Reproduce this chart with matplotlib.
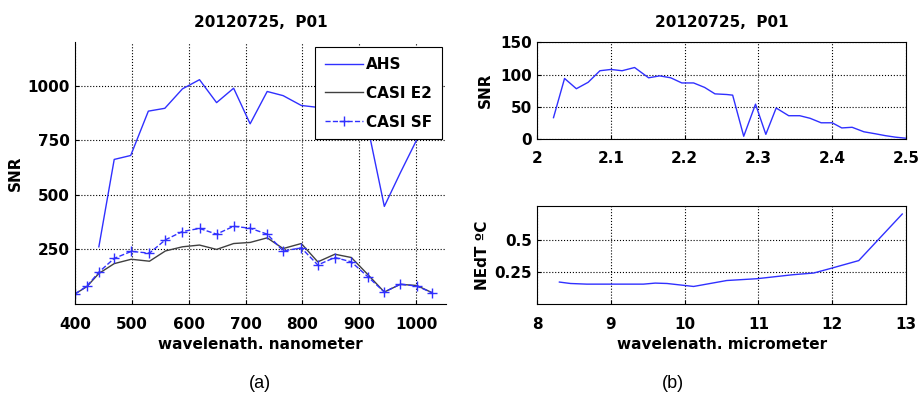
import matplotlib.pyplot as plt
import numpy as np

plt.rcParams['font.family'] = ['DejaVu Sans']
plt.rcParams['font.size'] = 11
plt.rcParams['font.weight'] = 'bold'
plt.rcParams['axes.labelweight'] = 'bold'

# (a) VNIR SNR
ahs_nm = [442, 469, 498, 529, 558, 589, 619, 649, 679, 708, 738, 766, 798,
          828, 857, 886, 915, 944, 972, 1001, 1030]
ahs_snr = [262, 662, 680, 883, 896, 985, 1027, 922, 988, 825, 973, 954, 909,
           900, 890, 880, 810, 447, 600, 752, 860]

casi_nm = [400, 421, 442, 469, 499, 531, 559, 589, 619, 649, 679, 708, 738,
           766, 798, 827, 857, 886, 915, 944, 972, 1001, 1028]
casi_e2 = [46, 80, 140, 185, 205, 196, 243, 262, 270, 250, 277, 282, 303,
           254, 277, 193, 228, 213, 135, 55, 90, 85, 52]
casi_sf = [46, 82, 146, 209, 241, 233, 294, 332, 346, 320, 356, 347, 320,
           243, 257, 179, 213, 193, 125, 55, 91, 82, 52]

# (b) SWIR SNR
swir_um = [2.022, 2.037, 2.053, 2.069, 2.085, 2.100, 2.115, 2.132, 2.151,
           2.166, 2.181, 2.196, 2.212, 2.227, 2.241, 2.257, 2.265, 2.280,
           2.296, 2.310, 2.324, 2.341, 2.356, 2.370, 2.385, 2.400, 2.413,
           2.427, 2.443, 2.458, 2.472, 2.486, 2.500]
swir_snr = [33, 94, 78, 88, 106, 108, 106, 111, 95, 98, 95, 87, 87, 80, 70,
            69, 68, 4, 54, 7, 48, 36, 36, 32, 25, 25, 17, 18, 11, 8, 5, 2.6, 1]

# (b) TIR NEdT
tir_um = [8.30, 8.45, 8.67, 8.99, 9.44, 9.60, 9.76, 10.12, 10.57, 10.98,
          11.47, 11.75, 11.97, 12.36, 12.95]
tir_nedt = [0.172, 0.161, 0.156, 0.156, 0.156, 0.164, 0.161, 0.138, 0.184,
            0.198, 0.229, 0.242, 0.276, 0.338, 0.698]

blue = '#3030ff'
grid_kw = dict(color='k', linestyle=':', linewidth=0.8)

fig = plt.figure(figsize=(9.2, 3.99), dpi=100)

ax1 = fig.add_axes([0.0815, 0.238, 0.403, 0.657])
ax1.plot(ahs_nm, ahs_snr, color=blue, linewidth=1, label='AHS')
ax1.plot(casi_nm, casi_e2, color='#404040', linewidth=1, label='CASI E2')
ax1.plot(casi_nm, casi_sf, color=blue, linewidth=1, linestyle='--',
         marker='+', markersize=7, label='CASI SF')
ax1.set_xlim(400, 1052)
ax1.set_ylim(0, 1200)
ax1.set_xticks(range(400, 1001, 100))
ax1.set_yticks([250, 500, 750, 1000])
ax1.grid(True, **grid_kw)
ax1.spines['top'].set_visible(False)
ax1.spines['right'].set_visible(False)
ax1.set_ylabel('SNR', labelpad=3)
ax1.set_xlabel('wavelenath. nanometer', labelpad=4)
ax1.set_title('20120725,  P01', fontsize=11, fontweight='bold', pad=11)
leg = ax1.legend(loc='upper right', bbox_to_anchor=(0.989, 0.98),
                 fancybox=False, framealpha=1, edgecolor='k',
                 handlelength=2.5, borderpad=0.65, labelspacing=0.9,
                 handletextpad=0.15, borderaxespad=0,
                 prop={'weight': 'bold', 'size': 11})
leg.get_frame().set_linewidth(0.8)

ax2 = fig.add_axes([0.584, 0.652, 0.4007, 0.2416])
ax2.plot(swir_um, swir_snr, color=blue, linewidth=1)
ax2.set_xlim(2, 2.5)
ax2.set_ylim(0, 150)
ax2.set_xticks([2, 2.1, 2.2, 2.3, 2.4, 2.5])
ax2.set_xticklabels(['2', '2.1', '2.2', '2.3', '2.4', '2.5'])
ax2.set_yticks([0, 50, 100, 150])
ax2.grid(True, **grid_kw)
ax2.set_ylabel('SNR', labelpad=5)
ax2.set_title('20120725,  P01', fontsize=11, fontweight='bold', pad=11)

ax3 = fig.add_axes([0.584, 0.2373, 0.4007, 0.2464])
ax3.plot(tir_um, tir_nedt, color=blue, linewidth=1)
ax3.set_xlim(8, 13)
ax3.set_ylim(0, 0.76)
ax3.set_xticks(range(8, 14))
ax3.set_yticks([0.25, 0.5])
ax3.set_yticklabels(['0.25', '0.5'])
ax3.grid(True, **grid_kw)
ax3.set_ylabel('NEdT ºC', labelpad=3)
ax3.set_xlabel('wavelenath. micrometer', labelpad=4)

for ax in (ax1, ax2, ax3):
    ax.tick_params(direction='in', length=3, width=0.8, labelsize=11)
    ax.tick_params(axis='x', pad=9)
    ax.tick_params(axis='y', pad=4)
    for lbl in ax.get_xticklabels() + ax.get_yticklabels():
        lbl.set_fontweight('bold')

fig.text(0.283, 0.038, '(a)', ha='center', va='center', fontsize=13,
         fontweight='normal', family='Liberation Sans')
fig.text(0.731, 0.038, '(b)', ha='center', va='center', fontsize=13,
         fontweight='normal', family='Liberation Sans')

fig.savefig('out.png', dpi=100)
